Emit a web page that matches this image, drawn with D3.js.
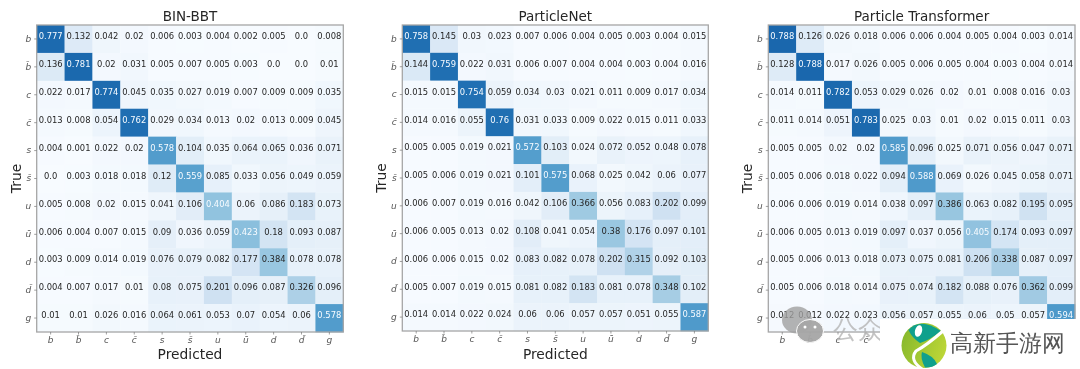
<!DOCTYPE html>
<html>
<head>
<meta charset="utf-8">
<script src="https://cdn.jsdelivr.net/npm/d3@7"></script>
<style>
  html, body { margin: 0; padding: 0; background: #fff; }
  svg { display: block; }
  text { font-family: "DejaVu Sans", sans-serif; }
</style>
</head>
<body>
<div id="chart"></div>
<script>
// class labels, same order on both axes
const classes = ["b", "b\u0304", "c", "c\u0304", "s", "s\u0304", "u", "u\u0304", "d", "d\u0304", "g"];

const titles = ["BIN-BBT", "ParticleNet", "Particle Transformer"];

const binBBT = [
  [0.777, 0.132, 0.042, 0.02, 0.006, 0.003, 0.004, 0.002, 0.005, 0.0, 0.008],
  [0.136, 0.781, 0.02, 0.031, 0.005, 0.007, 0.005, 0.003, 0.0, 0.0, 0.01],
  [0.022, 0.017, 0.774, 0.045, 0.035, 0.027, 0.019, 0.007, 0.009, 0.009, 0.035],
  [0.013, 0.008, 0.054, 0.762, 0.029, 0.034, 0.013, 0.02, 0.013, 0.009, 0.045],
  [0.004, 0.001, 0.022, 0.02, 0.578, 0.104, 0.035, 0.064, 0.065, 0.036, 0.071],
  [0.0, 0.003, 0.018, 0.018, 0.12, 0.559, 0.085, 0.033, 0.056, 0.049, 0.059],
  [0.005, 0.008, 0.02, 0.015, 0.041, 0.106, 0.404, 0.06, 0.086, 0.183, 0.073],
  [0.006, 0.004, 0.007, 0.015, 0.09, 0.036, 0.059, 0.423, 0.18, 0.093, 0.087],
  [0.003, 0.009, 0.014, 0.019, 0.076, 0.079, 0.082, 0.177, 0.384, 0.078, 0.078],
  [0.004, 0.007, 0.017, 0.01, 0.08, 0.075, 0.201, 0.096, 0.087, 0.326, 0.096],
  [0.01, 0.01, 0.026, 0.016, 0.064, 0.061, 0.053, 0.07, 0.054, 0.06, 0.578]
];

const particleNet = [
  [0.758, 0.145, 0.03, 0.023, 0.007, 0.006, 0.004, 0.005, 0.003, 0.004, 0.015],
  [0.144, 0.759, 0.022, 0.031, 0.006, 0.007, 0.004, 0.004, 0.003, 0.004, 0.016],
  [0.015, 0.015, 0.754, 0.059, 0.034, 0.03, 0.021, 0.011, 0.009, 0.017, 0.034],
  [0.014, 0.016, 0.055, 0.76, 0.031, 0.033, 0.009, 0.022, 0.015, 0.011, 0.033],
  [0.005, 0.005, 0.019, 0.021, 0.572, 0.103, 0.024, 0.072, 0.052, 0.048, 0.078],
  [0.005, 0.006, 0.019, 0.021, 0.101, 0.575, 0.068, 0.025, 0.042, 0.06, 0.077],
  [0.006, 0.007, 0.019, 0.016, 0.042, 0.106, 0.366, 0.056, 0.083, 0.202, 0.099],
  [0.006, 0.005, 0.013, 0.02, 0.108, 0.041, 0.054, 0.38, 0.176, 0.097, 0.101],
  [0.006, 0.006, 0.015, 0.02, 0.083, 0.082, 0.078, 0.202, 0.315, 0.092, 0.103],
  [0.005, 0.007, 0.019, 0.015, 0.081, 0.082, 0.183, 0.081, 0.078, 0.348, 0.102],
  [0.014, 0.014, 0.022, 0.024, 0.06, 0.06, 0.057, 0.057, 0.051, 0.055, 0.587]
];

const particleTransformer = [
  [0.788, 0.126, 0.026, 0.018, 0.006, 0.006, 0.004, 0.005, 0.004, 0.003, 0.014],
  [0.128, 0.788, 0.017, 0.026, 0.005, 0.006, 0.005, 0.004, 0.003, 0.004, 0.014],
  [0.014, 0.011, 0.782, 0.053, 0.029, 0.026, 0.02, 0.01, 0.008, 0.016, 0.03],
  [0.011, 0.014, 0.051, 0.783, 0.025, 0.03, 0.01, 0.02, 0.015, 0.011, 0.03],
  [0.005, 0.005, 0.02, 0.02, 0.585, 0.096, 0.025, 0.071, 0.056, 0.047, 0.071],
  [0.005, 0.006, 0.018, 0.022, 0.094, 0.588, 0.069, 0.026, 0.045, 0.058, 0.071],
  [0.006, 0.006, 0.019, 0.014, 0.038, 0.097, 0.386, 0.063, 0.082, 0.195, 0.095],
  [0.006, 0.005, 0.013, 0.019, 0.097, 0.037, 0.056, 0.405, 0.174, 0.093, 0.097],
  [0.005, 0.006, 0.013, 0.018, 0.073, 0.075, 0.081, 0.206, 0.338, 0.087, 0.097],
  [0.005, 0.006, 0.018, 0.014, 0.075, 0.074, 0.182, 0.088, 0.076, 0.362, 0.099],
  [0.012, 0.012, 0.022, 0.023, 0.056, 0.057, 0.055, 0.06, 0.05, 0.057, 0.594]
];

const matrices = [binBBT, particleNet, particleTransformer];

const dimensions = { width: 1080, height: 369 };

// left/right/top/bottom of each heatmap
// the white logo box covers the third panel's lower right corner
const coverX = 880, coverY = 319;
const panels = [
  { left: 36.7, right: 343.3, top: 25, bottom: 332, yLabelX: 16 },
  { left: 402.3, right: 708.3, top: 25, bottom: 331, yLabelX: 381 },
  { left: 768.3, right: 1075, top: 25, bottom: 332, yLabelX: 747, covered: true }
];

const color = d3.scaleSequential(d3.interpolateBlues).domain([0, 1]);

const svg = d3.select("#chart")
  .append("svg")
  .attr("width", dimensions.width)
  .attr("height", dimensions.height);

const charts = svg.append("g").style("filter", "blur(0.45px)");

panels.forEach((p, i) => {
  const g = charts.append("g");
  const xScale = d3.scaleBand().domain(d3.range(11)).range([p.left, p.right]);
  const yScale = d3.scaleBand().domain(d3.range(11)).range([p.top, p.bottom]);

  const rows = g.selectAll(".row")
    .data(matrices[i])
    .join("g")
    .attr("transform", (d, r) => `translate(0, ${yScale(r)})`);

  rows.selectAll("rect")
    .data(d => d)
    .join("rect")
    .attr("x", (d, c) => xScale(c))
    .attr("width", xScale.bandwidth() + 0.3)
    .attr("height", yScale.bandwidth() + 0.3)
    .attr("fill", d => color(d));

  rows.selectAll("text")
    .data(d => d)
    .join("text")
    .attr("x", (d, c) => xScale(c) + xScale.bandwidth() / 2)
    .attr("y", yScale.bandwidth() / 2 - 2.7)
    .attr("dy", "0.35em")
    .attr("text-anchor", "middle")
    .attr("font-size", 8.4)
    .attr("fill", d => d > 0.4 ? "#f7fbff" : "#262626")
    .text(d => d === 0 ? "0.0" : String(d));

  // frame
  g.append("rect")
    .attr("x", p.left)
    .attr("y", p.top)
    .attr("width", p.right - p.left)
    .attr("height", p.bottom - p.top)
    .attr("fill", "none")
    .attr("stroke", "#a6a6a6")
    .attr("stroke-width", 1.3);

  const tickFormat = c => classes[c];

  const xAxis = g.append("g")
    .attr("transform", `translate(0, ${p.bottom})`)
    .call(d3.axisBottom(xScale).tickSize(2.5).tickPadding(2.5).tickFormat(tickFormat));
  const yAxis = g.append("g")
    .attr("transform", `translate(${p.left}, 0)`)
    .call(d3.axisLeft(yScale).tickSize(2.5).tickPadding(3).tickFormat(tickFormat));

  [xAxis, yAxis].forEach(a => {
    a.select(".domain").remove();
    a.selectAll("line").attr("stroke", "#777").attr("stroke-width", 0.7);
    a.selectAll("text")
      .attr("font-size", 9)
      .attr("font-style", "italic")
      .attr("fill", "#555");
  });

  // labels under the logo box don't show in the picture
  if (p.covered) {
    xAxis.selectAll(".tick").filter(c => xScale(c) > coverX).remove();
  }

  g.append("text")
    .attr("x", (p.left + p.right) / 2)
    .attr("y", 21)
    .attr("text-anchor", "middle")
    .attr("font-size", 13.5)
    .attr("fill", "#262626")
    .text(titles[i]);

  if (!p.covered) {
    g.append("text")
      .attr("x", (p.left + p.right) / 2)
      .attr("y", 359)
      .attr("text-anchor", "middle")
      .attr("font-size", 13.8)
      .attr("fill", "#262626")
      .text("Predicted");
  }

  g.append("text")
    .attr("transform", `translate(${p.yLabelX + 5}, ${(p.top + p.bottom) / 2}) rotate(-90)`)
    .attr("text-anchor", "middle")
    .attr("font-size", 13.8)
    .attr("fill", "#262626")
    .text("True");
});

// watermarks that sit over the third panel
const mark = svg.append("g").style("filter", "blur(0.4px)");

mark.append("ellipse").attr("cx", 797).attr("cy", 320).attr("rx", 15).attr("ry", 13.5).attr("fill", "#a0a0a0").attr("opacity", 0.8);
mark.append("ellipse").attr("cx", 810).attr("cy", 331).attr("rx", 13.5).attr("ry", 11.5)
  .attr("fill", "#a6a6a6").attr("stroke", "#fff").attr("stroke-width", 1).attr("opacity", 0.95);
mark.append("circle").attr("cx", 805).attr("cy", 327).attr("r", 1.5).attr("fill", "#fff");
mark.append("circle").attr("cx", 815).attr("cy", 327).attr("r", 1.5).attr("fill", "#fff");
mark.append("text")
  .attr("x", 833).attr("y", 338)
  .attr("font-family", "Noto Sans CJK SC")
  .attr("font-size", 25)
  .attr("fill", "#b5b5b5")
  .attr("opacity", 0.8)
  .text("公众");

mark.append("rect").attr("x", coverX).attr("y", coverY).attr("width", 200).attr("height", 50).attr("fill", "#fff");

const logoGrad = svg.append("defs").append("linearGradient").attr("id", "logoGrad")
  .attr("x1", "0").attr("y1", "0.2").attr("x2", "1").attr("y2", "0.6");
logoGrad.append("stop").attr("offset", "0").attr("stop-color", "#86b82c");
logoGrad.append("stop").attr("offset", "1").attr("stop-color", "#bcd637");

mark.append("circle").attr("cx", 924).attr("cy", 345.5).attr("r", 22.5).attr("fill", "url(#logoGrad)");
mark.append("path").attr("d", "M908.5 330 Q920 317 941 331 Q930 340 920 343 Q912 338 908.5 330Z").attr("fill", "#0fa08c");
mark.append("path").attr("d", "M922 352 Q934 356 937 364 Q932 368 925 367.5 Q920 358 922 352Z").attr("fill", "#0fa08c");
mark.append("path").attr("d", "M943 331 Q927 345 916 351 Q909 360 922 369")
  .attr("fill", "none").attr("stroke", "#fff").attr("stroke-width", 3);
mark.append("ellipse").attr("transform", "translate(918.5, 331) rotate(15)").attr("rx", 3.5).attr("ry", 6).attr("fill", "#fff");

mark.append("text")
  .attr("x", 950).attr("y", 351)
  .attr("font-family", "Noto Sans CJK SC")
  .attr("font-size", 22.8)
  .attr("fill", "#555")
  .text("高新手游网");
</script>
</body>
</html>
